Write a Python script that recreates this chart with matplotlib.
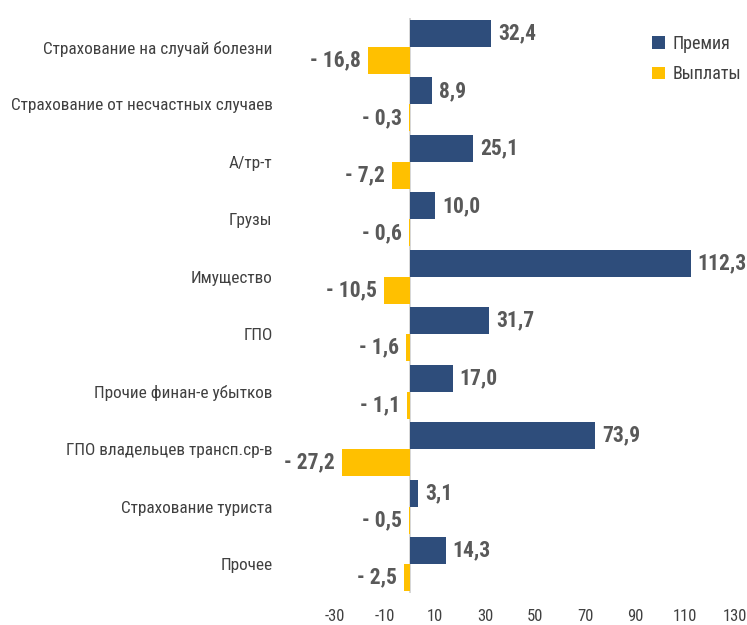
import numpy as np
import matplotlib
matplotlib.use("Agg")
import matplotlib.pyplot as plt

plt.rcParams['font.family'] = ['Roboto Condensed', 'DejaVu Sans']

# data
categories = ["Страхование на случай болезни", "Страхование от несчастных случаев",
              "А/тр-т", "Грузы", "Имущество", "ГПО", "Прочие финан-е убытков",
              "ГПО владельцев трансп.ср-в", "Страхование туриста", "Прочее"]
premium = [32.4, 8.9, 25.1, 10.0, 112.3, 31.7, 17.0, 73.9, 3.1, 14.3]
payouts = [-16.8, -0.3, -7.2, -0.6, -10.5, -1.6, -1.1, -27.2, -0.5, -2.5]
xticks = [-30, -10, 10, 30, 50, 70, 90, 110, 130]

blue = "#2E4D7B"
yellow = "#FFC000"

fig = plt.figure(figsize=(7.47, 6.25), dpi=100)
ax = fig.add_axes([0.4485, 0.0517, 0.5355, 0.919])

y = np.arange(len(categories))
h = 0.47
ax.barh(y - h / 2, premium, height=h, color=blue, label="Премия")
ax.barh(y + h / 2, payouts, height=h, color=yellow, label="Выплаты")

# подписи значений
for i in range(len(categories)):
    ax.text(premium[i] + 2.8, y[i] - h / 2, f"{premium[i]:.1f}".replace(".", ","),
            va="center", ha="left", fontsize=15.5, fontweight="bold", color="#595959")
    ax.text(payouts[i] - 2.8, y[i] + h / 2, "- " + f"{-payouts[i]:.1f}".replace(".", ","),
            va="center", ha="right", fontsize=15.5, fontweight="bold", color="#595959")

ax.set_xlim(-30, 130)
ax.set_ylim(len(categories) - 0.5, -0.5)
ax.set_xticks(xticks)
ax.set_xticklabels([str(t) for t in xticks], fontsize=12, color="#404040")
ax.set_yticks(y)
ax.set_yticklabels(categories, fontsize=12.4, color="#404040")
ax.tick_params(axis="both", length=0)
ax.tick_params(axis="y", pad=45)
ax.tick_params(axis="x", pad=12)
ax.axvline(0, color="#D0D0D0", lw=1.2, zorder=0)
for s in ax.spines.values():
    s.set_visible(False)

ax.legend(loc="upper right", bbox_to_anchor=(1.055, 1.0), frameon=False, fontsize=13,
          handlelength=0.7, handleheight=0.7, labelcolor="#404040", labelspacing=0.7,
          handletextpad=0.4)

fig.savefig("out.png", dpi=100)
